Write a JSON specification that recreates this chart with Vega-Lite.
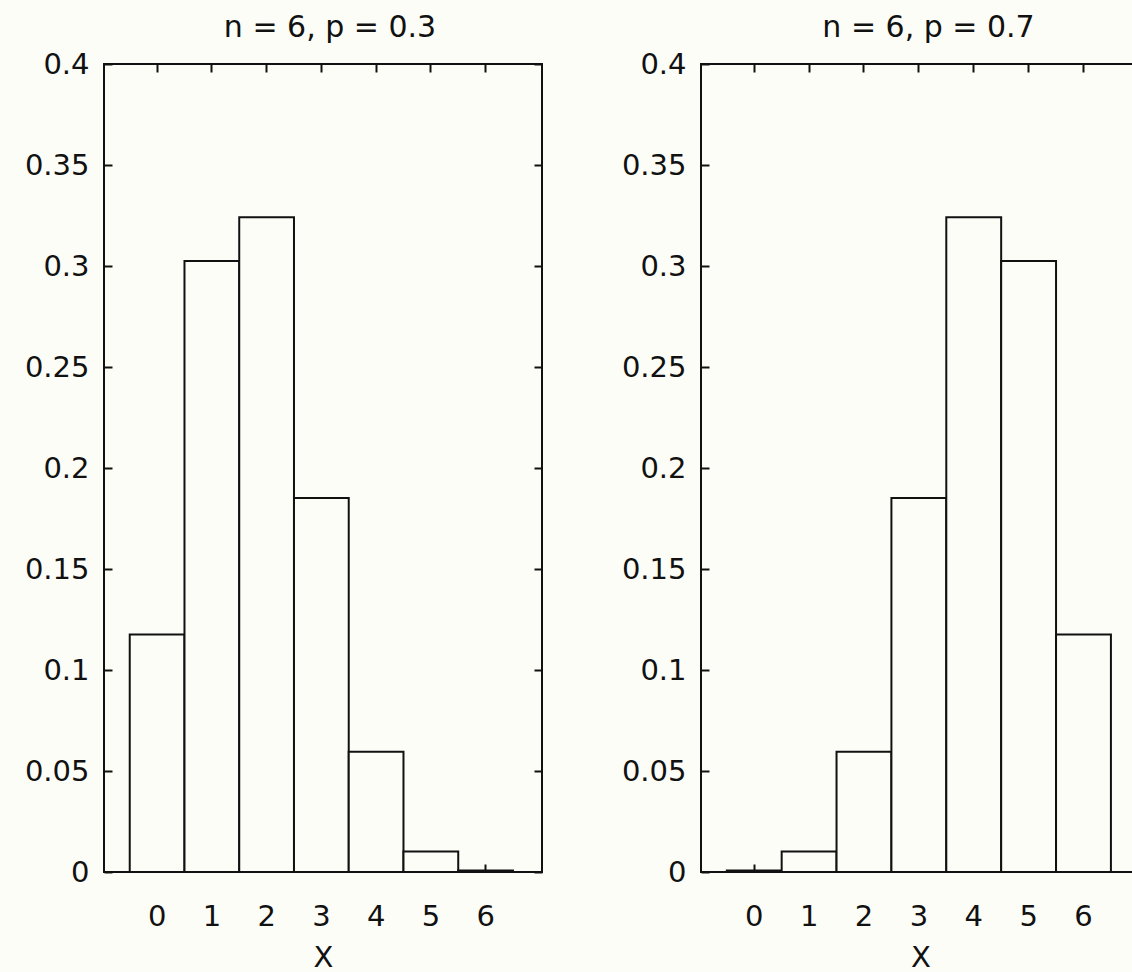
{
  "$schema": "https://vega.github.io/schema/vega-lite/v6.json",
  "background": "#fdfdf8",
  "padding": {"left": 23, "top": 12, "right": 0, "bottom": 0},
  "spacing": 76,
  "config": {
    "font": "DejaVu Sans",
    "view": {"stroke": "#111111", "strokeWidth": 2},
    "axis": {
      "labelFont": "DejaVu Sans",
      "labelFontSize": 29,
      "labelColor": "#111111",
      "titleFont": "DejaVu Sans",
      "titleFontSize": 29,
      "titleFontWeight": "normal",
      "titleColor": "#111111",
      "domain": false,
      "grid": false,
      "tickColor": "#111111",
      "tickWidth": 2,
      "tickSize": -8
    },
    "title": {"font": "DejaVu Sans", "fontSize": 30, "fontWeight": "normal", "color": "#111111", "anchor": "middle"}
  },
  "datasets": {
    "p03": [
      {"x": 0, "p": 0.1176},
      {"x": 1, "p": 0.3025},
      {"x": 2, "p": 0.3241},
      {"x": 3, "p": 0.1852},
      {"x": 4, "p": 0.0595},
      {"x": 5, "p": 0.0102},
      {"x": 6, "p": 0.0007}
    ],
    "p07": [
      {"x": 0, "p": 0.0007},
      {"x": 1, "p": 0.0102},
      {"x": 2, "p": 0.0595},
      {"x": 3, "p": 0.1852},
      {"x": 4, "p": 0.3241},
      {"x": 5, "p": 0.3025},
      {"x": 6, "p": 0.1176}
    ]
  },
  "hconcat": [
    {
      "title": {"text": "n = 6, p = 0.3", "dx": 7, "offset": 7},
      "width": 438,
      "height": 808,
      "data": {"name": "p03"},
      "layer": [
        {
          "mark": {"type": "bar", "fill": "#fdfdf8", "stroke": "#111111", "strokeWidth": 2},
          "encoding": {
            "x": {"field": "x", "type": "ordinal", "scale": {"paddingInner": 0, "paddingOuter": 0.5, "align": 0.47},
                  "axis": {"orient": "bottom", "labelAngle": 0, "title": "X", "labelPadding": 38, "titlePadding": 12}},
            "y": {"field": "p", "type": "quantitative", "scale": {"domain": [0, 0.4], "nice": false, "zero": true},
                  "axis": {"orient": "left", "values": [0, 0.05, 0.1, 0.15, 0.2, 0.25, 0.3, 0.35, 0.4], "format": ".2~f", "title": null, "labelPadding": 23}}
          }
        },
        {
          "mark": {"type": "bar", "opacity": 0},
          "encoding": {
            "x": {"field": "x", "type": "ordinal", "axis": {"orient": "top", "labels": false, "title": null}},
            "y": {"field": "p", "type": "quantitative",
                  "axis": {"orient": "right", "labels": false, "title": null, "values": [0, 0.05, 0.1, 0.15, 0.2, 0.25, 0.3, 0.35, 0.4]}}
          }
        }
      ],
      "resolve": {"axis": {"x": "independent", "y": "independent"}}
    },
    {
      "title": {"text": "n = 6, p = 0.7", "dx": 8, "offset": 7},
      "width": 439,
      "height": 808,
      "data": {"name": "p07"},
      "layer": [
        {
          "mark": {"type": "bar", "fill": "#fdfdf8", "stroke": "#111111", "strokeWidth": 2},
          "encoding": {
            "x": {"field": "x", "type": "ordinal", "scale": {"paddingInner": 0, "paddingOuter": 0.5, "align": 0.47},
                  "axis": {"orient": "bottom", "labelAngle": 0, "title": "X", "labelPadding": 38, "titlePadding": 12}},
            "y": {"field": "p", "type": "quantitative", "scale": {"domain": [0, 0.4], "nice": false, "zero": true},
                  "axis": {"orient": "left", "values": [0, 0.05, 0.1, 0.15, 0.2, 0.25, 0.3, 0.35, 0.4], "format": ".2~f", "title": null, "labelPadding": 23}}
          }
        },
        {
          "mark": {"type": "bar", "opacity": 0},
          "encoding": {
            "x": {"field": "x", "type": "ordinal", "axis": {"orient": "top", "labels": false, "title": null}},
            "y": {"field": "p", "type": "quantitative",
                  "axis": {"orient": "right", "labels": false, "title": null, "values": [0, 0.05, 0.1, 0.15, 0.2, 0.25, 0.3, 0.35, 0.4]}}
          }
        }
      ],
      "resolve": {"axis": {"x": "independent", "y": "independent"}}
    }
  ]
}
